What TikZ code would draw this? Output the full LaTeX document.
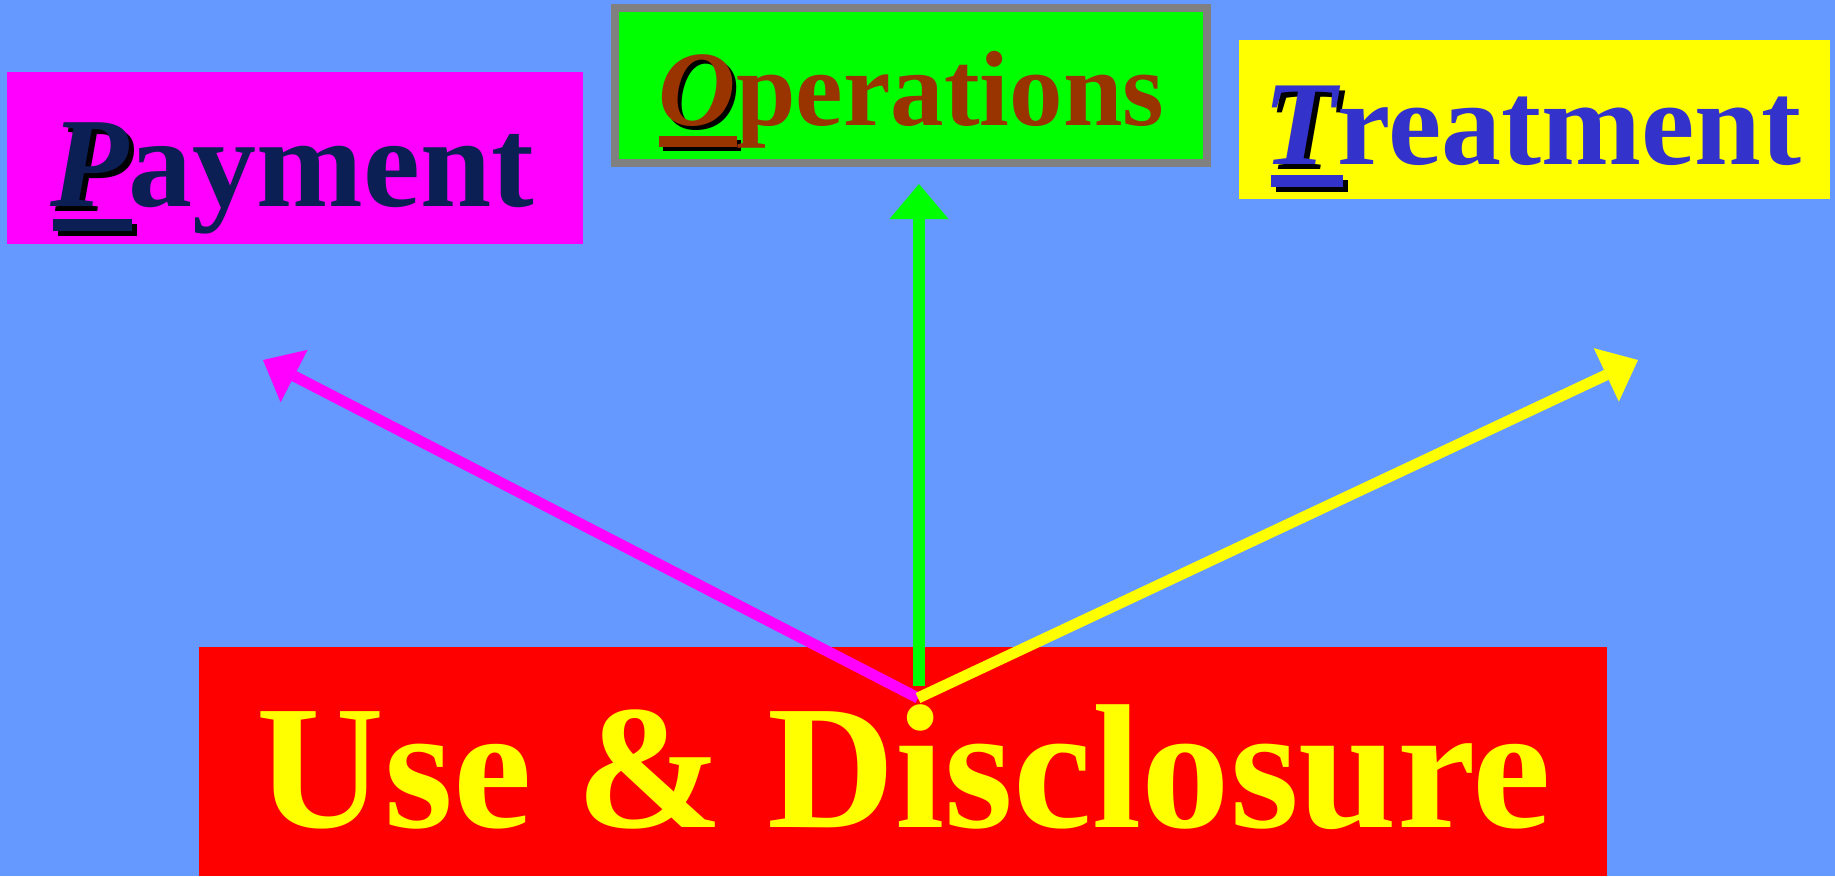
\documentclass[tikz,border=0pt]{standalone}
\usepackage{fontspec}
\setmainfont{Liberation Serif}
\usetikzlibrary{arrows.meta}
\definecolor{bg}{RGB}{102,153,255}
\definecolor{payfill}{RGB}{255,0,255}
\definecolor{opsfill}{RGB}{0,255,0}
\definecolor{trtfill}{RGB}{255,255,0}
\definecolor{usefill}{RGB}{255,0,0}
\definecolor{paytext}{RGB}{11,31,85}
\definecolor{optext}{RGB}{153,51,0}
\definecolor{trtext}{RGB}{51,51,204}
\definecolor{usetext}{RGB}{255,255,0}
\definecolor{opborder}{RGB}{128,128,128}
\newcommand\shletter[2]{\rlap{\kern#1\raisebox{-#1}{\color{black}#2}}{#2}}
\tikzset{
  box/.style={rectangle, inner sep=0pt, outer sep=0pt, draw=none},
  label text/.style={anchor=base, inner sep=0pt, outer sep=0pt},
  conn/.style={line width=11pt, -{Triangle[length=35pt,width=59pt,line width=0pt]}},
}
\begin{document}
\begin{tikzpicture}[x=1pt,y=-1pt]
\fill[bg] (0,0) rectangle (1835,876);
\useasboundingbox (0,0) rectangle (1835,876);
% boxes
\node[box, fill=payfill, minimum width=576pt, minimum height=172pt] (pay) at (295,158) {};
\node[box, fill=opsfill, draw=opborder, line width=8pt, minimum width=592pt, minimum height=155pt] (ops) at (911,85.5) {};
\node[box, fill=trtfill, minimum width=591pt, minimum height=159pt] (trt) at (1534.5,119.5) {};
\node[box, fill=usefill, minimum width=1408pt, minimum height=229pt] (use) at (903,761.5) {};
% underlines of the first letters (shadow, then bar)
\fill[black] (58,224) rectangle (137,236);
\fill[paytext] (53,219) rectangle (132,231);
\fill[black] (663,140) rectangle (741,151);
\fill[optext] (659,136) rectangle (737,147);
\fill[black] (1276,180) rectangle (1348,192);
\fill[trtext] (1271,175) rectangle (1343,187);
% texts
\node[label text, text=paytext, font=\fontsize{128}{130}\selectfont\bfseries] (paytxt) at (292.5,206)
  {\shletter{5pt}{\itshape P}ayment};
\node[label text, text=optext, font=\fontsize{107}{110}\selectfont\bfseries] (opstxt) at (911.5,125)
  {\shletter{4pt}{\itshape O}perations};
\node[label text, text=trtext, font=\fontsize{120}{122}\selectfont\bfseries] (trttxt) at (1532.5,164)
  {\shletter{5pt}{\itshape T}reatment};
\node[label text, text=usetext, font=\fontsize{177}{180}\selectfont\bfseries] (usetxt) at (904,827)
  {Use \& Disclosure};
% connector ends
\coordinate (o) at (918,698);
\coordinate (og) at (919,686);
\coordinate (ptip) at (263,360);
\coordinate (otip) at (919,184);
\coordinate (ttip) at (1638,360);
\draw[conn, payfill] (o) -- (ptip);
\draw[conn, opsfill, line width=12pt] (og) -- (otip);
\draw[conn, trtfill] (o) -- (ttip);
\end{tikzpicture}
\end{document}
